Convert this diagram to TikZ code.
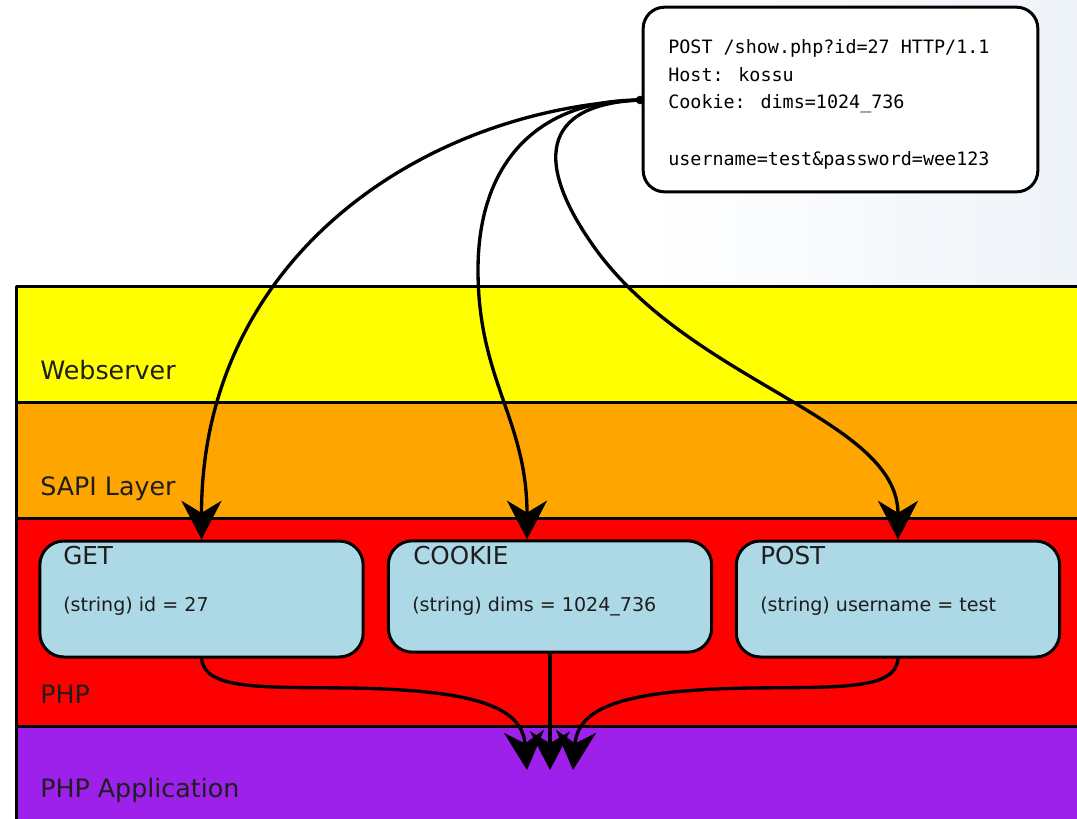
\documentclass[tikz,border=0pt]{standalone}
\usepackage{fontspec}
\setmainfont{DejaVu Sans}
\newfontfamily\reqmono{DejaVu Sans Mono}
\usetikzlibrary{arrows.meta}
\definecolor{websrv}{RGB}{255,255,0}
\definecolor{sapi}{RGB}{255,165,0}
\definecolor{phpred}{RGB}{255,0,0}
\definecolor{phpapp}{RGB}{158,32,235}
\definecolor{boxblue}{RGB}{173,216,230}
\definecolor{txt}{RGB}{30,30,30}
\definecolor{bgblue}{RGB}{218,229,241}
\pgfdeclarehorizontalshading{bgshade}{100bp}{color(0bp)=(white); color(55bp)=(white); color(100bp)=(bgblue)}
\begin{document}
\begin{tikzpicture}[x=0.75pt,y=-0.75pt,line join=round,
  layer/.style={draw=black,line width=2.25pt},
  laylabel/.style={anchor=base west,font=\fontsize{19}{22}\selectfont,text=txt,inner sep=0pt},
  vartitle/.style={anchor=base west,font=\fontsize{18.5}{22}\selectfont,text=txt,inner sep=0pt},
  varval/.style={anchor=base west,font=\fontsize{14.3}{17}\selectfont,text=txt,inner sep=0pt},
  reqline/.style={anchor=base west,font=\reqmono\fontsize{13.8}{16}\selectfont,text=black,inner sep=0pt},
  varbox/.style={draw=black,line width=2.25pt,fill=boxblue,rounded corners=18pt,minimum width=242.5pt,inner sep=0pt},
  reqbox/.style={draw=black,line width=2.25pt,fill=white,rounded corners=16pt,minimum width=296pt,minimum height=138.5pt,inner sep=0pt},
  flow/.style={line width=2.5pt,-{Stealth[length=29pt,width=30pt,inset=9pt]}}]
\useasboundingbox (0,0) rectangle (1077,818);
\clip (0,0) rectangle (1077,818);
% background
\shade[shading=bgshade] (0,0) rectangle (1077,818);
% layers
\filldraw[layer,fill=websrv] (16,286) rectangle (1090,402);
\filldraw[layer,fill=sapi] (16,402) rectangle (1090,518);
\filldraw[layer,fill=phpred] (16,518) rectangle (1090,726);
\filldraw[layer,fill=phpapp] (16,726) rectangle (1090,830);
\node[laylabel] (lweb) at (40,379) {Webserver};
\node[laylabel] (lsapi) at (40,495) {SAPI Layer};
\node[laylabel] (lphp) at (40,703) {PHP};
\node[laylabel] (lapp) at (40,797) {PHP Application};
% request box
\node[reqbox] (req) at (840.5,99.5) {};
\node[reqline] (r1) at (668,53) {POST /show.php?id=27 HTTP/1.1};
\node[reqline] (r2) at (668,81) {Host: kossu};
\node[reqline] (r3) at (668,108) {Cookie: dims=1024\_736};
\node[reqline] (r4) at (668,165) {username=test\&password=wee123};
\coordinate (src) at (640,100);
% variable boxes
\node[varbox,minimum height=87pt] (get) at (201.5,599) {};
\node[varbox,minimum height=83.5pt] (cookie) at (550,596.5) {};
\node[varbox,minimum height=87pt] (post) at (898,599) {};
\node[vartitle] (tget) at (63,564) {GET};
\node[varval] (vget) at (63,611) {(string) id = 27};
\node[vartitle] (tcookie) at (413,564) {COOKIE};
\node[varval] (vcookie) at (412,611) {(string) dims = 1024\_736};
\node[vartitle] (tpost) at (760,564) {POST};
\node[varval] (vpost) at (760,611) {(string) username = test};
\coordinate (cin) at ([xshift=-17.25pt]cookie.north);
% top flows
\draw[flow] (src) .. controls (420,110) and (get.north |- 0,260) .. (get.north);
\draw[flow] (src) .. controls (540,100) and (478,160) .. (478,270) .. controls (478,380) and (cin |- 0,420) .. (cin);
\draw[flow] (src) .. controls (530,105) and (540,175) .. (600,255) .. controls (700,385) and (post.north |- 0,420) .. (post.north);
\fill (src) circle[radius=3.2pt];
% bottom flows
\coordinate (a1) at (527,770);
\coordinate (a2) at (550,770);
\coordinate (a3) at (573,770);
\draw[flow] (get.south) .. controls (205,690) and (260,687) .. (350,688) .. controls (470,690) and (522,705) .. (a1);
\draw[flow] (cookie.south) -- (a2);
\draw[flow] (post.south) .. controls (896,690) and (840,687) .. (750,688) .. controls (630,690) and (578,705) .. (a3);
\end{tikzpicture}
\end{document}
